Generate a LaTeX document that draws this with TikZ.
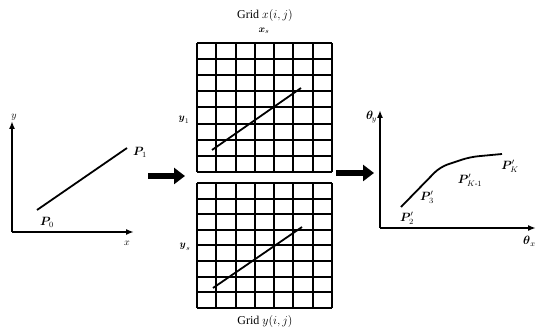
\documentclass[tikz,border=0pt]{standalone}
\usepackage{amsmath}
\usepackage{fontspec}
\setmainfont{Liberation Serif}
\usetikzlibrary{arrows.meta}
\begin{document}
\begin{tikzpicture}[x=1pt,y=-1pt,
  axis/.style={line width=1.6pt,-{Latex[length=8pt,width=6pt]}},
  gridln/.style={line width=2pt},
  curve/.style={line width=1.8pt},
  fatarrow/.style={line width=6pt,-{Triangle[length=11pt 0,width=16pt 0]}},
  lbl/.style={inner sep=0pt,font=\large}]
\useasboundingbox (0,0) rectangle (536,331);
% left plot
\coordinate (O1) at (12,232);
\coordinate (Y1) at (12,121);
\coordinate (X1) at (134,232);
\draw[axis] (O1) -- (Y1);
\draw[axis] (O1) -- (X1);
\node[lbl,font=\normalsize] (ylab) at (14,117) {$y$};
\node[lbl,font=\normalsize] (xlab) at (127,243) {$x$};
\coordinate (P0) at (37,210);
\coordinate (P1) at (127,148);
\draw[curve] (P0) -- (P1);
\node[lbl] (p1lab) at (140,152) {$\boldsymbol{P}_{\!1}$};
\node[lbl] (p0lab) at (47,222) {$\boldsymbol{P}_{\!0}$};
% top grid
\foreach \i in {0,...,7} \draw[gridln] ({197+\i*135/7},43) -- ({197+\i*135/7},172);
\foreach \j in {0,...,8} \draw[gridln] (197,{43+\j*129/8}) -- (332,{43+\j*129/8});
\coordinate (ta) at (212,150);
\coordinate (tb) at (301,88);
\draw[curve] (ta) -- (tb);
% bottom grid
\foreach \i in {0,...,7} \draw[gridln] ({197+\i*135/7},183) -- ({197+\i*135/7},308);
\foreach \j in {0,...,8} \draw[gridln] (197,{183+\j*125/8}) -- (332,{183+\j*125/8});
\coordinate (ba) at (213,288);
\coordinate (bb) at (302,227);
\draw[curve] (ba) -- (bb);
% grid labels
\node[lbl] (gx) at (265,16) {Grid $x(i,j)$};
\node[lbl,font=\normalsize] (xs) at (264,31) {$\boldsymbol{x}_{s}$};
\node[lbl,font=\normalsize] (y1) at (184,120) {$\boldsymbol{y}_{1}$};
\node[lbl,font=\normalsize] (ys) at (185,247) {$\boldsymbol{y}_{s}$};
\node[lbl] (gy) at (265,322) {Grid $y(i,j)$};
% fat arrows
\coordinate (a1s) at (148,176);
\coordinate (a1e) at (185,176);
\draw[fatarrow] (a1s) -- (a1e);
\coordinate (a2s) at (336,173);
\coordinate (a2e) at (374,173);
\draw[fatarrow] (a2s) -- (a2e);
% right plot
\coordinate (O2) at (380,228);
\coordinate (Y2) at (380,110);
\coordinate (X2) at (536,228);
\draw[axis] (O2) -- (Y2);
\draw[axis] (O2) -- (X2);
\node[lbl,anchor=east] (thy) at (377,117) {$\boldsymbol{\theta}_{\!y}$};
\node[lbl,anchor=west] (thx) at (523,241) {$\boldsymbol{\theta}_{x}$};
\coordinate (c1) at (401,207);
\coordinate (c2) at (440,167);
\coordinate (c3) at (470,157);
\coordinate (c4) at (502,154);
\draw[curve,rounded corners=8pt] (c1) -- (c2) -- (c3) -- (c4);
\node[lbl] (q1) at (407,218) {$\boldsymbol{P}'_{\!2}$};
\node[lbl] (q2) at (427,197) {$\boldsymbol{P}'_{\!3}$};
\node[lbl] (q3) at (470,180) {$\boldsymbol{P}'_{\!K\text{-}1}$};
\node[lbl] (q4) at (510,166) {$\boldsymbol{P}'_{\!K}$};
\end{tikzpicture}
\end{document}
